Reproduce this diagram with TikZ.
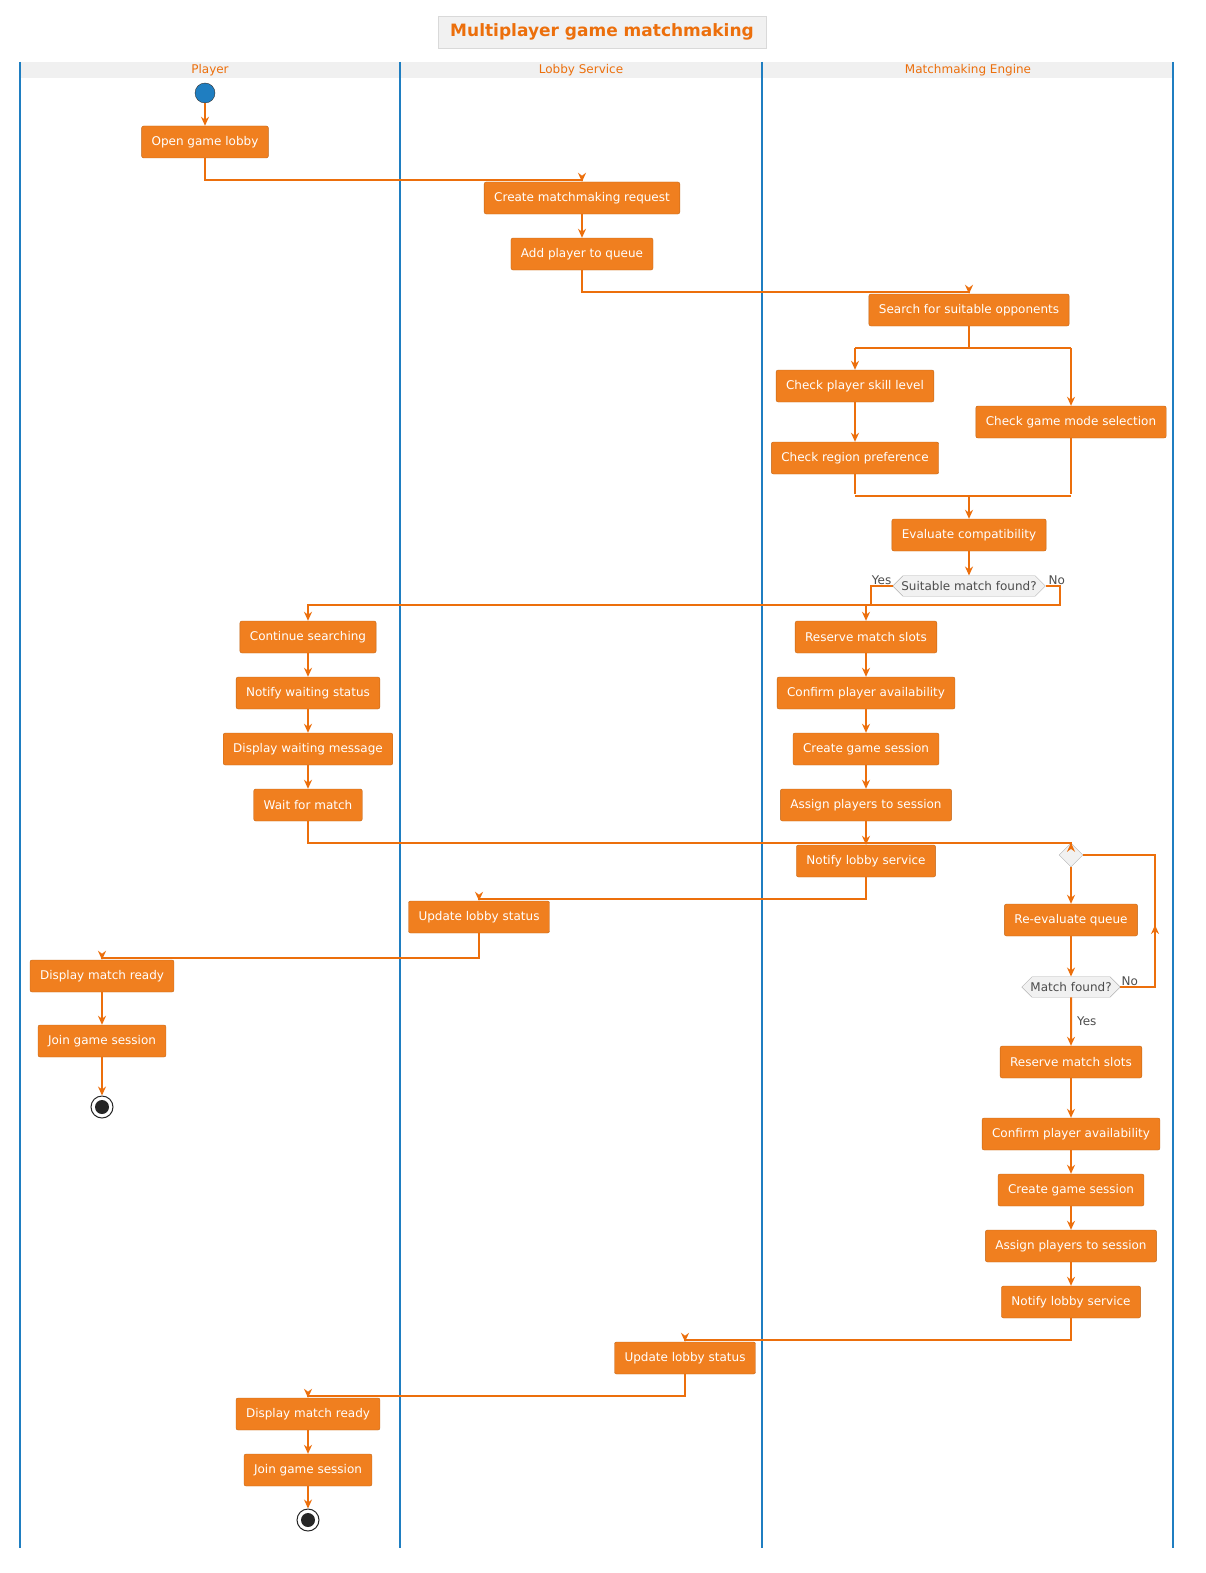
\documentclass[tikz,border=0pt]{standalone}
\usepackage{fontspec}
\setmainfont{DejaVu Sans}
\usetikzlibrary{arrows.meta,shapes.geometric,shapes.misc}
\definecolor{boxfill}{HTML}{F07F1F}
\definecolor{flowline}{HTML}{EC6F0C}
\definecolor{lane}{HTML}{1F7EC1}
\definecolor{decfill}{HTML}{F1F1F1}

\begin{document}
\begin{tikzpicture}[x=1pt, y=-1pt, font=\fontsize{12}{14}\selectfont,
  act/.style = {draw=boxfill!80!black, fill=boxfill, text=white, rounded corners=2pt, minimum height=32pt, inner xsep=10pt},
  dec/.style = {chamfered rectangle, chamfered rectangle xsep=10pt, draw=gray!60, fill=decfill, text=black!70, minimum height=20pt, inner xsep=2pt, inner ysep=2pt},
  merge/.style = {diamond, draw=gray!60, fill=decfill, minimum size=24pt, inner sep=0pt},
  flow/.style = {draw=flowline, line width=2pt, -{Stealth[length=9pt,width=8pt]}},
  bar/.style = {draw=flowline, line width=1.5pt},
  lbl/.style = {text=black!70, inner sep=1pt}]
\useasboundingbox (0,0) rectangle (1205,1573);

% title and lanes
\node[draw=gray!30, fill=decfill, text=flowline, font=\fontsize{17}{20}\selectfont\bfseries, minimum height=32pt, inner xsep=12pt] (title) at (602,32) {Multiplayer game matchmaking};
\fill[gray!12] (20,62) rectangle (1173,78);
\foreach \x in {20,400,762,1173}
  \draw[lane, line width=2pt] (\x,62) -- (\x,1548);
\node[text=flowline] (hplayer) at (210,70) {Player};
\node[text=flowline] (hlobby) at (581,70) {Lobby Service};
\node[text=flowline] (hengine) at (968,70) {Matchmaking Engine};

% main flow
\node[circle, fill=lane, draw=black!80, minimum size=20pt, inner sep=0pt] (start) at (205,93) {};
\node[act] (open) at (205,142) {Open game lobby};
\node[act] (create) at (582,198) {Create matchmaking request};
\node[act] (queue) at (582,254) {Add player to queue};
\node[act] (search) at (969,310) {Search for suitable opponents};
\node[act] (skill) at (855,386) {Check player skill level};
\node[act] (region) at (855,458) {Check region preference};
\node[act] (mode) at (1071,422) {Check game mode selection};
\node[act] (eval) at (969,535) {Evaluate compatibility};
\node[dec] (found) at (969,586) {Suitable match found?};

% waiting branch
\node[act] (cont) at (308,637) {Continue searching};
\node[act] (notwait) at (308,693) {Notify waiting status};
\node[act] (dispwait) at (308,749) {Display waiting message};
\node[act] (wait) at (308,805) {Wait for match};

% match branch
\node[act] (reserve) at (866,637) {Reserve match slots};
\node[act] (confirm) at (866,693) {Confirm player availability};
\node[act] (session) at (866,749) {Create game session};
\node[act] (assign) at (866,805) {Assign players to session};
\node[act] (notify) at (866,861) {Notify lobby service};
\node[act] (upd) at (479,917) {Update lobby status};
\node[act] (ready) at (102,976) {Display match ready};
\node[act] (join) at (102,1041) {Join game session};
\node[circle, draw=black!85, line width=1pt, minimum size=22pt, inner sep=0pt] (stop) at (102,1107) {};
\node[circle, fill=black!85, minimum size=14pt, inner sep=0pt] at (stop) {};

% retry loop
\node[merge] (loop) at (1071,855) {};
\node[act] (reeval) at (1071,920) {Re-evaluate queue};
\node[dec] (again) at (1071,987) {Match found?};
\node[act] (reserveb) at (1071,1062) {Reserve match slots};
\node[act] (confirmb) at (1071,1134) {Confirm player availability};
\node[act] (sessionb) at (1071,1190) {Create game session};
\node[act] (assignb) at (1071,1246) {Assign players to session};
\node[act] (notifyb) at (1071,1302) {Notify lobby service};
\node[act] (updb) at (685,1358) {Update lobby status};
\node[act] (readyb) at (308,1414) {Display match ready};
\node[act] (joinb) at (308,1470) {Join game session};
\node[circle, draw=black!85, line width=1pt, minimum size=22pt, inner sep=0pt] (stopb) at (308,1520) {};
\node[circle, fill=black!85, minimum size=14pt, inner sep=0pt] at (stopb) {};

% connectors
\draw[flow] (start) -- (open);
\draw[flow] (open.south) -- ++(0,22) -| (create.north);
\draw[flow] (create) -- (queue);
\draw[flow] (queue.south) -- ++(0,22) -| (search.north);
\draw[bar] (search.south) -- ++(0,22);
\draw[bar] (855,348) -- (1071,348);
\draw[flow] (855,348) -- (skill.north);
\draw[flow] (1071,348) -- (mode.north);
\draw[flow] (skill) -- (region);
\draw[bar] (region.south) -- ++(0,20);
\draw[bar] (mode.south) -- ++(0,56);
\draw[bar] (855,496) -- (1071,496);
\draw[flow] (969,496) -- (eval.north);
\draw[flow] (eval) -- (found);
\draw[flow] (found.west) -- ++(-22,0) -- ++(0,19) -| (reserve.north);
\draw[flow] (found.east) -- ++(14,0) -- ++(0,19) -| (cont.north);
\node[lbl, anchor=south east] at (found.west) {Yes};
\node[lbl, anchor=south west] at ([xshift=2pt]found.east) {No};
\draw[flow] (cont) -- (notwait);
\draw[flow] (notwait) -- (dispwait);
\draw[flow] (dispwait) -- (wait);
\draw[flow] (wait.south) -- ++(0,22) -| (loop.north);
\draw[flow] (reserve) -- (confirm);
\draw[flow] (confirm) -- (session);
\draw[flow] (session) -- (assign);
\draw[flow] (assign) -- (notify);
\draw[flow] (notify.south) -- ++(0,22) -| (upd.north);
\draw[flow] (upd.south) -- ++(0,25) -| (ready.north);
\draw[flow] (ready) -- (join);
\draw[flow] (join) -- (stop);
\draw[flow] (loop) -- (reeval);
\draw[flow] (reeval) -- (again);
\draw[draw=flowline, line width=2pt] (again.east) -- (1155,987) -- (1155,855) -- (loop.east);
\draw[flow] (1155,987) -- (1155,925);
\node[lbl, anchor=south west] at (again.east) {No};
\draw[flow] (again) -- node[lbl, right=4pt] {Yes} (reserveb);
\draw[flow] (reserveb) -- (confirmb);
\draw[flow] (confirmb) -- (sessionb);
\draw[flow] (sessionb) -- (assignb);
\draw[flow] (assignb) -- (notifyb);
\draw[flow] (notifyb.south) -- ++(0,22) -| (updb.north);
\draw[flow] (updb.south) -- ++(0,22) -| (readyb.north);
\draw[flow] (readyb) -- (joinb);
\draw[flow] (joinb) -- (stopb);
\end{tikzpicture}
\end{document}
